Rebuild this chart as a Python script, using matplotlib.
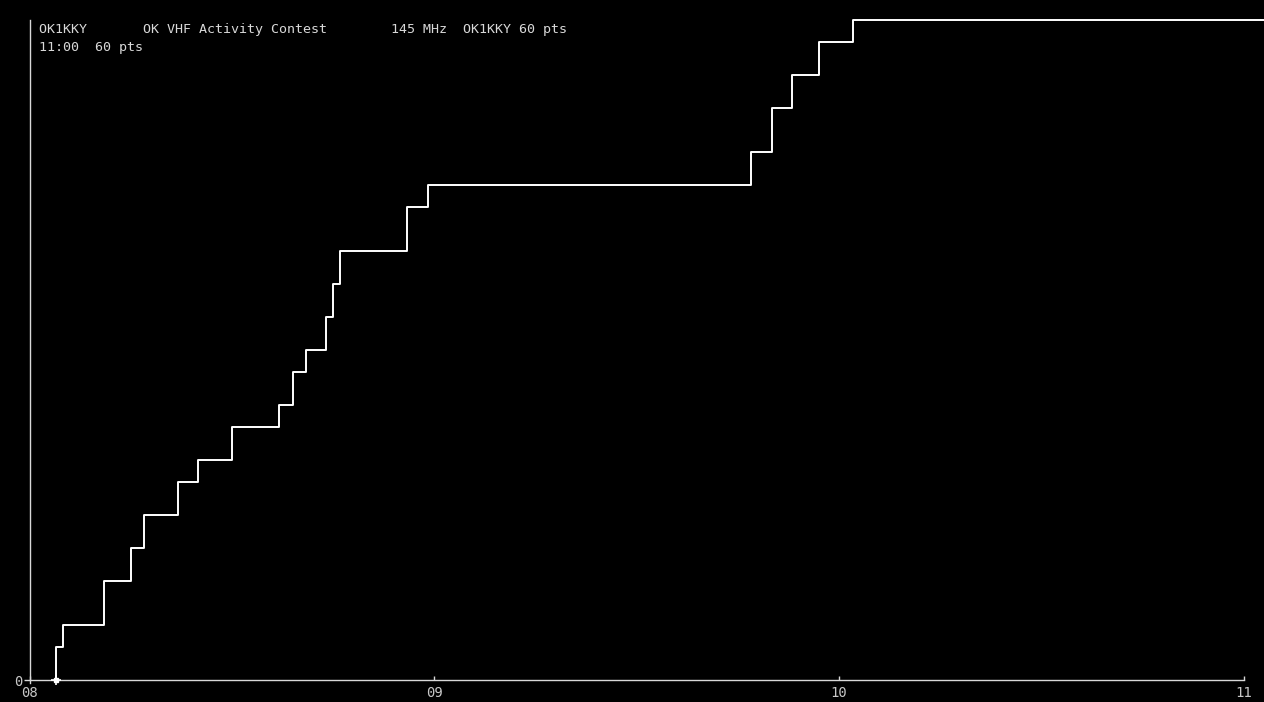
import numpy as np
import matplotlib
matplotlib.use("Agg")
import matplotlib.pyplot as plt

# QSO log, cumulative score after each contact
qso_times = ["08:04", "08:05", "08:11", "08:15", "08:17", "08:22", "08:25",
             "08:30", "08:37", "08:39", "08:41", "08:44", "08:45", "08:46",
             "08:56", "08:59", "09:47", "09:50", "09:53", "09:57", "10:02"]
qso_score = [3, 5, 9, 12, 15, 18, 20, 23, 25, 28, 30, 33, 36, 39,
             43, 45, 48, 52, 55, 58, 60]
end_time = "11:03"
x_ticks = [8, 9, 10, 11]
x_ticklabels = ["08", "09", "10", "11"]

title_line1 = "OK1KKY       OK VHF Activity Contest        145 MHz  OK1KKY 60 pts"
title_line2 = "11:00  60 pts"

def to_hours(s):
    h, m = s.split(":")
    return int(h) + int(m) / 60.0

t = [to_hours(s) for s in qso_times]
xs = [t[0]] + t + [to_hours(end_time)]
ys = [0] + qso_score + [qso_score[-1]]

fg = "#d8d8d8"
tick_fg = "#c8c8c8"
mono = "DejaVu Sans Mono"

fig = plt.figure(figsize=(12.64, 7.02), dpi=100, facecolor="black")
W, H = 1264, 702
ax = fig.add_axes([29.5 / W, 22 / H, (1244 - 29.5) / W, 660 / H])
ax.set_facecolor("black")

ax.step(xs, ys, where="post", color="white", lw=1.4, clip_on=False, zorder=3)
ax.plot(t[0], 0, marker="+", ms=7, mew=1.2, color="white", clip_on=False, zorder=4)
ax.plot(t[0], 0, marker="s", ms=3, color="white", clip_on=False, zorder=4)

ax.set_xlim(8, 11)
ax.set_ylim(0, 60)
ax.set_xticks(x_ticks)
ax.set_xticklabels(x_ticklabels, family=mono, fontsize=10, color=tick_fg)
ax.set_yticks([0])
ax.set_yticklabels(["0"], family=mono, fontsize=10, color=tick_fg)
ax.tick_params(axis="x", direction="in", length=3, width=1, color=fg, pad=4)
ax.tick_params(axis="y", direction="out", length=4, width=1, color=fg, pad=1)

for side in ["top", "right"]:
    ax.spines[side].set_visible(False)
for side in ["left", "bottom"]:
    ax.spines[side].set_color(fg)
    ax.spines[side].set_linewidth(1)
ax.spines["left"].set_bounds(-0.25, 60)

fig.text(39 / W, 1 - 29 / H, title_line1, family=mono, fontsize=9.6,
         color=fg, va="center", ha="left")
fig.text(39 / W, 1 - 47 / H, title_line2, family=mono, fontsize=9.6,
         color=fg, va="center", ha="left")

fig.savefig("out.png", dpi=100, facecolor="black")
